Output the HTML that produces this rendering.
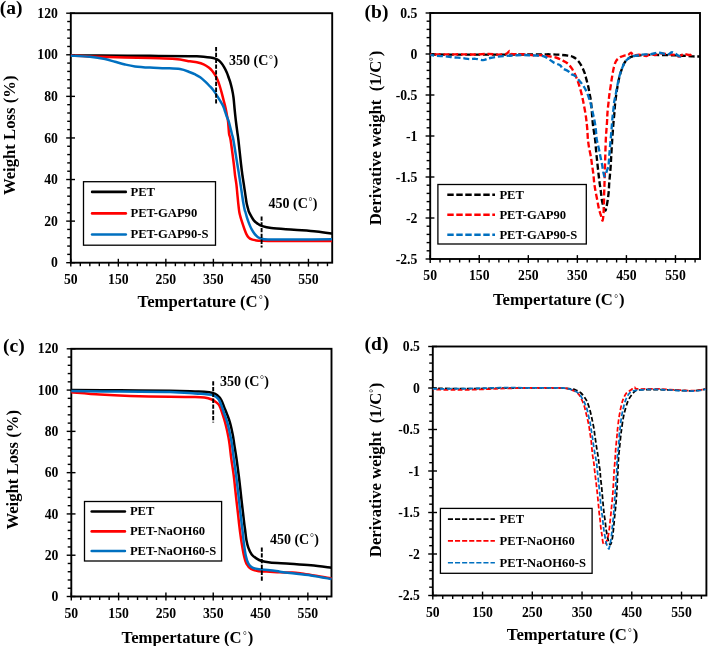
<!DOCTYPE html>
<html><head><meta charset="utf-8"><title>TGA / DTG curves</title>
<style>
html,body{margin:0;padding:0;background:#fff;width:708px;height:646px;overflow:hidden;}
svg{display:block;font-family:"Liberation Serif", serif;will-change:transform;}
text{white-space:pre;}
</style></head><body>
<svg width="708" height="646" viewBox="0 0 708 646" font-family='"Liberation Serif", serif' font-weight="bold" fill="#000">
<rect width="708" height="646" fill="#fff"/>
<line x1="70.80" y1="258.80" x2="70.80" y2="266.60" stroke="#000" stroke-width="1.40"/>
<line x1="80.31" y1="262.70" x2="80.31" y2="266.20" stroke="#000" stroke-width="1.40"/>
<line x1="89.81" y1="262.70" x2="89.81" y2="266.20" stroke="#000" stroke-width="1.40"/>
<line x1="99.32" y1="262.70" x2="99.32" y2="266.20" stroke="#000" stroke-width="1.40"/>
<line x1="108.82" y1="262.70" x2="108.82" y2="266.20" stroke="#000" stroke-width="1.40"/>
<line x1="118.33" y1="258.80" x2="118.33" y2="266.60" stroke="#000" stroke-width="1.40"/>
<line x1="127.83" y1="262.70" x2="127.83" y2="266.20" stroke="#000" stroke-width="1.40"/>
<line x1="137.34" y1="262.70" x2="137.34" y2="266.20" stroke="#000" stroke-width="1.40"/>
<line x1="146.84" y1="262.70" x2="146.84" y2="266.20" stroke="#000" stroke-width="1.40"/>
<line x1="156.35" y1="262.70" x2="156.35" y2="266.20" stroke="#000" stroke-width="1.40"/>
<line x1="165.85" y1="258.80" x2="165.85" y2="266.60" stroke="#000" stroke-width="1.40"/>
<line x1="175.36" y1="262.70" x2="175.36" y2="266.20" stroke="#000" stroke-width="1.40"/>
<line x1="184.87" y1="262.70" x2="184.87" y2="266.20" stroke="#000" stroke-width="1.40"/>
<line x1="194.37" y1="262.70" x2="194.37" y2="266.20" stroke="#000" stroke-width="1.40"/>
<line x1="203.88" y1="262.70" x2="203.88" y2="266.20" stroke="#000" stroke-width="1.40"/>
<line x1="213.38" y1="258.80" x2="213.38" y2="266.60" stroke="#000" stroke-width="1.40"/>
<line x1="222.89" y1="262.70" x2="222.89" y2="266.20" stroke="#000" stroke-width="1.40"/>
<line x1="232.39" y1="262.70" x2="232.39" y2="266.20" stroke="#000" stroke-width="1.40"/>
<line x1="241.90" y1="262.70" x2="241.90" y2="266.20" stroke="#000" stroke-width="1.40"/>
<line x1="251.40" y1="262.70" x2="251.40" y2="266.20" stroke="#000" stroke-width="1.40"/>
<line x1="260.91" y1="258.80" x2="260.91" y2="266.60" stroke="#000" stroke-width="1.40"/>
<line x1="270.41" y1="262.70" x2="270.41" y2="266.20" stroke="#000" stroke-width="1.40"/>
<line x1="279.92" y1="262.70" x2="279.92" y2="266.20" stroke="#000" stroke-width="1.40"/>
<line x1="289.43" y1="262.70" x2="289.43" y2="266.20" stroke="#000" stroke-width="1.40"/>
<line x1="298.93" y1="262.70" x2="298.93" y2="266.20" stroke="#000" stroke-width="1.40"/>
<line x1="308.44" y1="258.80" x2="308.44" y2="266.60" stroke="#000" stroke-width="1.40"/>
<line x1="317.94" y1="262.70" x2="317.94" y2="266.20" stroke="#000" stroke-width="1.40"/>
<line x1="327.45" y1="262.70" x2="327.45" y2="266.20" stroke="#000" stroke-width="1.40"/>
<line x1="66.20" y1="262.70" x2="75.00" y2="262.70" stroke="#000" stroke-width="1.40"/>
<line x1="67.20" y1="254.38" x2="70.80" y2="254.38" stroke="#000" stroke-width="1.40"/>
<line x1="67.20" y1="246.07" x2="70.80" y2="246.07" stroke="#000" stroke-width="1.40"/>
<line x1="67.20" y1="237.75" x2="70.80" y2="237.75" stroke="#000" stroke-width="1.40"/>
<line x1="67.20" y1="229.43" x2="70.80" y2="229.43" stroke="#000" stroke-width="1.40"/>
<line x1="66.20" y1="221.12" x2="75.00" y2="221.12" stroke="#000" stroke-width="1.40"/>
<line x1="67.20" y1="212.80" x2="70.80" y2="212.80" stroke="#000" stroke-width="1.40"/>
<line x1="67.20" y1="204.48" x2="70.80" y2="204.48" stroke="#000" stroke-width="1.40"/>
<line x1="67.20" y1="196.17" x2="70.80" y2="196.17" stroke="#000" stroke-width="1.40"/>
<line x1="67.20" y1="187.85" x2="70.80" y2="187.85" stroke="#000" stroke-width="1.40"/>
<line x1="66.20" y1="179.53" x2="75.00" y2="179.53" stroke="#000" stroke-width="1.40"/>
<line x1="67.20" y1="171.22" x2="70.80" y2="171.22" stroke="#000" stroke-width="1.40"/>
<line x1="67.20" y1="162.90" x2="70.80" y2="162.90" stroke="#000" stroke-width="1.40"/>
<line x1="67.20" y1="154.58" x2="70.80" y2="154.58" stroke="#000" stroke-width="1.40"/>
<line x1="67.20" y1="146.27" x2="70.80" y2="146.27" stroke="#000" stroke-width="1.40"/>
<line x1="66.20" y1="137.95" x2="75.00" y2="137.95" stroke="#000" stroke-width="1.40"/>
<line x1="67.20" y1="129.63" x2="70.80" y2="129.63" stroke="#000" stroke-width="1.40"/>
<line x1="67.20" y1="121.32" x2="70.80" y2="121.32" stroke="#000" stroke-width="1.40"/>
<line x1="67.20" y1="113.00" x2="70.80" y2="113.00" stroke="#000" stroke-width="1.40"/>
<line x1="67.20" y1="104.68" x2="70.80" y2="104.68" stroke="#000" stroke-width="1.40"/>
<line x1="66.20" y1="96.37" x2="75.00" y2="96.37" stroke="#000" stroke-width="1.40"/>
<line x1="67.20" y1="88.05" x2="70.80" y2="88.05" stroke="#000" stroke-width="1.40"/>
<line x1="67.20" y1="79.73" x2="70.80" y2="79.73" stroke="#000" stroke-width="1.40"/>
<line x1="67.20" y1="71.42" x2="70.80" y2="71.42" stroke="#000" stroke-width="1.40"/>
<line x1="67.20" y1="63.10" x2="70.80" y2="63.10" stroke="#000" stroke-width="1.40"/>
<line x1="66.20" y1="54.78" x2="75.00" y2="54.78" stroke="#000" stroke-width="1.40"/>
<line x1="67.20" y1="46.47" x2="70.80" y2="46.47" stroke="#000" stroke-width="1.40"/>
<line x1="67.20" y1="38.15" x2="70.80" y2="38.15" stroke="#000" stroke-width="1.40"/>
<line x1="67.20" y1="29.83" x2="70.80" y2="29.83" stroke="#000" stroke-width="1.40"/>
<line x1="67.20" y1="21.52" x2="70.80" y2="21.52" stroke="#000" stroke-width="1.40"/>
<line x1="66.20" y1="13.20" x2="75.00" y2="13.20" stroke="#000" stroke-width="1.40"/>
<rect x="70.80" y="13.20" width="261.40" height="249.50" fill="none" stroke="#000" stroke-width="1.9"/>
<text x="57.90" y="267.30" font-size="13.70" text-anchor="end">0</text>
<text x="57.90" y="225.72" font-size="13.70" text-anchor="end">20</text>
<text x="57.90" y="184.13" font-size="13.70" text-anchor="end">40</text>
<text x="57.90" y="142.55" font-size="13.70" text-anchor="end">60</text>
<text x="57.90" y="100.97" font-size="13.70" text-anchor="end">80</text>
<text x="57.90" y="59.38" font-size="13.70" text-anchor="end">100</text>
<text x="57.90" y="17.80" font-size="13.70" text-anchor="end">120</text>
<text x="70.80" y="284.10" font-size="13.70" text-anchor="middle">50</text>
<text x="118.33" y="284.10" font-size="13.70" text-anchor="middle">150</text>
<text x="165.85" y="284.10" font-size="13.70" text-anchor="middle">250</text>
<text x="213.38" y="284.10" font-size="13.70" text-anchor="middle">350</text>
<text x="260.91" y="284.10" font-size="13.70" text-anchor="middle">450</text>
<text x="308.44" y="284.10" font-size="13.70" text-anchor="middle">550</text>
<line x1="430.20" y1="255.10" x2="430.20" y2="262.90" stroke="#000" stroke-width="1.40"/>
<line x1="440.01" y1="259.00" x2="440.01" y2="262.50" stroke="#000" stroke-width="1.40"/>
<line x1="449.82" y1="259.00" x2="449.82" y2="262.50" stroke="#000" stroke-width="1.40"/>
<line x1="459.63" y1="259.00" x2="459.63" y2="262.50" stroke="#000" stroke-width="1.40"/>
<line x1="469.44" y1="259.00" x2="469.44" y2="262.50" stroke="#000" stroke-width="1.40"/>
<line x1="479.25" y1="255.10" x2="479.25" y2="262.90" stroke="#000" stroke-width="1.40"/>
<line x1="489.07" y1="259.00" x2="489.07" y2="262.50" stroke="#000" stroke-width="1.40"/>
<line x1="498.88" y1="259.00" x2="498.88" y2="262.50" stroke="#000" stroke-width="1.40"/>
<line x1="508.69" y1="259.00" x2="508.69" y2="262.50" stroke="#000" stroke-width="1.40"/>
<line x1="518.50" y1="259.00" x2="518.50" y2="262.50" stroke="#000" stroke-width="1.40"/>
<line x1="528.31" y1="255.10" x2="528.31" y2="262.90" stroke="#000" stroke-width="1.40"/>
<line x1="538.12" y1="259.00" x2="538.12" y2="262.50" stroke="#000" stroke-width="1.40"/>
<line x1="547.93" y1="259.00" x2="547.93" y2="262.50" stroke="#000" stroke-width="1.40"/>
<line x1="557.74" y1="259.00" x2="557.74" y2="262.50" stroke="#000" stroke-width="1.40"/>
<line x1="567.55" y1="259.00" x2="567.55" y2="262.50" stroke="#000" stroke-width="1.40"/>
<line x1="577.36" y1="255.10" x2="577.36" y2="262.90" stroke="#000" stroke-width="1.40"/>
<line x1="587.17" y1="259.00" x2="587.17" y2="262.50" stroke="#000" stroke-width="1.40"/>
<line x1="596.99" y1="259.00" x2="596.99" y2="262.50" stroke="#000" stroke-width="1.40"/>
<line x1="606.80" y1="259.00" x2="606.80" y2="262.50" stroke="#000" stroke-width="1.40"/>
<line x1="616.61" y1="259.00" x2="616.61" y2="262.50" stroke="#000" stroke-width="1.40"/>
<line x1="626.42" y1="255.10" x2="626.42" y2="262.90" stroke="#000" stroke-width="1.40"/>
<line x1="636.23" y1="259.00" x2="636.23" y2="262.50" stroke="#000" stroke-width="1.40"/>
<line x1="646.04" y1="259.00" x2="646.04" y2="262.50" stroke="#000" stroke-width="1.40"/>
<line x1="655.85" y1="259.00" x2="655.85" y2="262.50" stroke="#000" stroke-width="1.40"/>
<line x1="665.66" y1="259.00" x2="665.66" y2="262.50" stroke="#000" stroke-width="1.40"/>
<line x1="675.47" y1="255.10" x2="675.47" y2="262.90" stroke="#000" stroke-width="1.40"/>
<line x1="685.28" y1="259.00" x2="685.28" y2="262.50" stroke="#000" stroke-width="1.40"/>
<line x1="695.09" y1="259.00" x2="695.09" y2="262.50" stroke="#000" stroke-width="1.40"/>
<line x1="425.60" y1="259.00" x2="434.40" y2="259.00" stroke="#000" stroke-width="1.40"/>
<line x1="426.60" y1="250.80" x2="430.20" y2="250.80" stroke="#000" stroke-width="1.40"/>
<line x1="426.60" y1="242.60" x2="430.20" y2="242.60" stroke="#000" stroke-width="1.40"/>
<line x1="426.60" y1="234.40" x2="430.20" y2="234.40" stroke="#000" stroke-width="1.40"/>
<line x1="426.60" y1="226.20" x2="430.20" y2="226.20" stroke="#000" stroke-width="1.40"/>
<line x1="425.60" y1="218.00" x2="434.40" y2="218.00" stroke="#000" stroke-width="1.40"/>
<line x1="426.60" y1="209.80" x2="430.20" y2="209.80" stroke="#000" stroke-width="1.40"/>
<line x1="426.60" y1="201.60" x2="430.20" y2="201.60" stroke="#000" stroke-width="1.40"/>
<line x1="426.60" y1="193.40" x2="430.20" y2="193.40" stroke="#000" stroke-width="1.40"/>
<line x1="426.60" y1="185.20" x2="430.20" y2="185.20" stroke="#000" stroke-width="1.40"/>
<line x1="425.60" y1="177.00" x2="434.40" y2="177.00" stroke="#000" stroke-width="1.40"/>
<line x1="426.60" y1="168.80" x2="430.20" y2="168.80" stroke="#000" stroke-width="1.40"/>
<line x1="426.60" y1="160.60" x2="430.20" y2="160.60" stroke="#000" stroke-width="1.40"/>
<line x1="426.60" y1="152.40" x2="430.20" y2="152.40" stroke="#000" stroke-width="1.40"/>
<line x1="426.60" y1="144.20" x2="430.20" y2="144.20" stroke="#000" stroke-width="1.40"/>
<line x1="425.60" y1="136.00" x2="434.40" y2="136.00" stroke="#000" stroke-width="1.40"/>
<line x1="426.60" y1="127.80" x2="430.20" y2="127.80" stroke="#000" stroke-width="1.40"/>
<line x1="426.60" y1="119.60" x2="430.20" y2="119.60" stroke="#000" stroke-width="1.40"/>
<line x1="426.60" y1="111.40" x2="430.20" y2="111.40" stroke="#000" stroke-width="1.40"/>
<line x1="426.60" y1="103.20" x2="430.20" y2="103.20" stroke="#000" stroke-width="1.40"/>
<line x1="425.60" y1="95.00" x2="434.40" y2="95.00" stroke="#000" stroke-width="1.40"/>
<line x1="426.60" y1="86.80" x2="430.20" y2="86.80" stroke="#000" stroke-width="1.40"/>
<line x1="426.60" y1="78.60" x2="430.20" y2="78.60" stroke="#000" stroke-width="1.40"/>
<line x1="426.60" y1="70.40" x2="430.20" y2="70.40" stroke="#000" stroke-width="1.40"/>
<line x1="426.60" y1="62.20" x2="430.20" y2="62.20" stroke="#000" stroke-width="1.40"/>
<line x1="425.60" y1="54.00" x2="434.40" y2="54.00" stroke="#000" stroke-width="1.40"/>
<line x1="426.60" y1="45.80" x2="430.20" y2="45.80" stroke="#000" stroke-width="1.40"/>
<line x1="426.60" y1="37.60" x2="430.20" y2="37.60" stroke="#000" stroke-width="1.40"/>
<line x1="426.60" y1="29.40" x2="430.20" y2="29.40" stroke="#000" stroke-width="1.40"/>
<line x1="426.60" y1="21.20" x2="430.20" y2="21.20" stroke="#000" stroke-width="1.40"/>
<line x1="425.60" y1="13.00" x2="434.40" y2="13.00" stroke="#000" stroke-width="1.40"/>
<rect x="430.20" y="13.00" width="269.80" height="246.00" fill="none" stroke="#000" stroke-width="1.9"/>
<text x="417.30" y="263.60" font-size="13.70" text-anchor="end">-2.5</text>
<text x="417.30" y="222.60" font-size="13.70" text-anchor="end">-2</text>
<text x="417.30" y="181.60" font-size="13.70" text-anchor="end">-1.5</text>
<text x="417.30" y="140.60" font-size="13.70" text-anchor="end">-1</text>
<text x="417.30" y="99.60" font-size="13.70" text-anchor="end">-0.5</text>
<text x="417.30" y="58.60" font-size="13.70" text-anchor="end">0</text>
<text x="417.30" y="17.60" font-size="13.70" text-anchor="end">0.5</text>
<text x="430.20" y="280.40" font-size="13.70" text-anchor="middle">50</text>
<text x="479.25" y="280.40" font-size="13.70" text-anchor="middle">150</text>
<text x="528.31" y="280.40" font-size="13.70" text-anchor="middle">250</text>
<text x="577.36" y="280.40" font-size="13.70" text-anchor="middle">350</text>
<text x="626.42" y="280.40" font-size="13.70" text-anchor="middle">450</text>
<text x="675.47" y="280.40" font-size="13.70" text-anchor="middle">550</text>
<line x1="71.30" y1="592.60" x2="71.30" y2="600.40" stroke="#000" stroke-width="1.40"/>
<line x1="80.76" y1="596.50" x2="80.76" y2="600.00" stroke="#000" stroke-width="1.40"/>
<line x1="90.22" y1="596.50" x2="90.22" y2="600.00" stroke="#000" stroke-width="1.40"/>
<line x1="99.69" y1="596.50" x2="99.69" y2="600.00" stroke="#000" stroke-width="1.40"/>
<line x1="109.15" y1="596.50" x2="109.15" y2="600.00" stroke="#000" stroke-width="1.40"/>
<line x1="118.61" y1="592.60" x2="118.61" y2="600.40" stroke="#000" stroke-width="1.40"/>
<line x1="128.07" y1="596.50" x2="128.07" y2="600.00" stroke="#000" stroke-width="1.40"/>
<line x1="137.53" y1="596.50" x2="137.53" y2="600.00" stroke="#000" stroke-width="1.40"/>
<line x1="146.99" y1="596.50" x2="146.99" y2="600.00" stroke="#000" stroke-width="1.40"/>
<line x1="156.46" y1="596.50" x2="156.46" y2="600.00" stroke="#000" stroke-width="1.40"/>
<line x1="165.92" y1="592.60" x2="165.92" y2="600.40" stroke="#000" stroke-width="1.40"/>
<line x1="175.38" y1="596.50" x2="175.38" y2="600.00" stroke="#000" stroke-width="1.40"/>
<line x1="184.84" y1="596.50" x2="184.84" y2="600.00" stroke="#000" stroke-width="1.40"/>
<line x1="194.30" y1="596.50" x2="194.30" y2="600.00" stroke="#000" stroke-width="1.40"/>
<line x1="203.77" y1="596.50" x2="203.77" y2="600.00" stroke="#000" stroke-width="1.40"/>
<line x1="213.23" y1="592.60" x2="213.23" y2="600.40" stroke="#000" stroke-width="1.40"/>
<line x1="222.69" y1="596.50" x2="222.69" y2="600.00" stroke="#000" stroke-width="1.40"/>
<line x1="232.15" y1="596.50" x2="232.15" y2="600.00" stroke="#000" stroke-width="1.40"/>
<line x1="241.61" y1="596.50" x2="241.61" y2="600.00" stroke="#000" stroke-width="1.40"/>
<line x1="251.07" y1="596.50" x2="251.07" y2="600.00" stroke="#000" stroke-width="1.40"/>
<line x1="260.54" y1="592.60" x2="260.54" y2="600.40" stroke="#000" stroke-width="1.40"/>
<line x1="270.00" y1="596.50" x2="270.00" y2="600.00" stroke="#000" stroke-width="1.40"/>
<line x1="279.46" y1="596.50" x2="279.46" y2="600.00" stroke="#000" stroke-width="1.40"/>
<line x1="288.92" y1="596.50" x2="288.92" y2="600.00" stroke="#000" stroke-width="1.40"/>
<line x1="298.38" y1="596.50" x2="298.38" y2="600.00" stroke="#000" stroke-width="1.40"/>
<line x1="307.85" y1="592.60" x2="307.85" y2="600.40" stroke="#000" stroke-width="1.40"/>
<line x1="317.31" y1="596.50" x2="317.31" y2="600.00" stroke="#000" stroke-width="1.40"/>
<line x1="326.77" y1="596.50" x2="326.77" y2="600.00" stroke="#000" stroke-width="1.40"/>
<line x1="66.70" y1="596.50" x2="75.50" y2="596.50" stroke="#000" stroke-width="1.40"/>
<line x1="67.70" y1="588.24" x2="71.30" y2="588.24" stroke="#000" stroke-width="1.40"/>
<line x1="67.70" y1="579.99" x2="71.30" y2="579.99" stroke="#000" stroke-width="1.40"/>
<line x1="67.70" y1="571.73" x2="71.30" y2="571.73" stroke="#000" stroke-width="1.40"/>
<line x1="67.70" y1="563.47" x2="71.30" y2="563.47" stroke="#000" stroke-width="1.40"/>
<line x1="66.70" y1="555.22" x2="75.50" y2="555.22" stroke="#000" stroke-width="1.40"/>
<line x1="67.70" y1="546.96" x2="71.30" y2="546.96" stroke="#000" stroke-width="1.40"/>
<line x1="67.70" y1="538.70" x2="71.30" y2="538.70" stroke="#000" stroke-width="1.40"/>
<line x1="67.70" y1="530.45" x2="71.30" y2="530.45" stroke="#000" stroke-width="1.40"/>
<line x1="67.70" y1="522.19" x2="71.30" y2="522.19" stroke="#000" stroke-width="1.40"/>
<line x1="66.70" y1="513.93" x2="75.50" y2="513.93" stroke="#000" stroke-width="1.40"/>
<line x1="67.70" y1="505.68" x2="71.30" y2="505.68" stroke="#000" stroke-width="1.40"/>
<line x1="67.70" y1="497.42" x2="71.30" y2="497.42" stroke="#000" stroke-width="1.40"/>
<line x1="67.70" y1="489.16" x2="71.30" y2="489.16" stroke="#000" stroke-width="1.40"/>
<line x1="67.70" y1="480.91" x2="71.30" y2="480.91" stroke="#000" stroke-width="1.40"/>
<line x1="66.70" y1="472.65" x2="75.50" y2="472.65" stroke="#000" stroke-width="1.40"/>
<line x1="67.70" y1="464.39" x2="71.30" y2="464.39" stroke="#000" stroke-width="1.40"/>
<line x1="67.70" y1="456.14" x2="71.30" y2="456.14" stroke="#000" stroke-width="1.40"/>
<line x1="67.70" y1="447.88" x2="71.30" y2="447.88" stroke="#000" stroke-width="1.40"/>
<line x1="67.70" y1="439.62" x2="71.30" y2="439.62" stroke="#000" stroke-width="1.40"/>
<line x1="66.70" y1="431.37" x2="75.50" y2="431.37" stroke="#000" stroke-width="1.40"/>
<line x1="67.70" y1="423.11" x2="71.30" y2="423.11" stroke="#000" stroke-width="1.40"/>
<line x1="67.70" y1="414.85" x2="71.30" y2="414.85" stroke="#000" stroke-width="1.40"/>
<line x1="67.70" y1="406.60" x2="71.30" y2="406.60" stroke="#000" stroke-width="1.40"/>
<line x1="67.70" y1="398.34" x2="71.30" y2="398.34" stroke="#000" stroke-width="1.40"/>
<line x1="66.70" y1="390.08" x2="75.50" y2="390.08" stroke="#000" stroke-width="1.40"/>
<line x1="67.70" y1="381.83" x2="71.30" y2="381.83" stroke="#000" stroke-width="1.40"/>
<line x1="67.70" y1="373.57" x2="71.30" y2="373.57" stroke="#000" stroke-width="1.40"/>
<line x1="67.70" y1="365.31" x2="71.30" y2="365.31" stroke="#000" stroke-width="1.40"/>
<line x1="67.70" y1="357.06" x2="71.30" y2="357.06" stroke="#000" stroke-width="1.40"/>
<line x1="66.70" y1="348.80" x2="75.50" y2="348.80" stroke="#000" stroke-width="1.40"/>
<rect x="71.30" y="348.80" width="260.20" height="247.70" fill="none" stroke="#000" stroke-width="1.9"/>
<text x="58.40" y="601.10" font-size="13.70" text-anchor="end">0</text>
<text x="58.40" y="559.82" font-size="13.70" text-anchor="end">20</text>
<text x="58.40" y="518.53" font-size="13.70" text-anchor="end">40</text>
<text x="58.40" y="477.25" font-size="13.70" text-anchor="end">60</text>
<text x="58.40" y="435.97" font-size="13.70" text-anchor="end">80</text>
<text x="58.40" y="394.68" font-size="13.70" text-anchor="end">100</text>
<text x="58.40" y="353.40" font-size="13.70" text-anchor="end">120</text>
<text x="71.30" y="617.90" font-size="13.70" text-anchor="middle">50</text>
<text x="118.61" y="617.90" font-size="13.70" text-anchor="middle">150</text>
<text x="165.92" y="617.90" font-size="13.70" text-anchor="middle">250</text>
<text x="213.23" y="617.90" font-size="13.70" text-anchor="middle">350</text>
<text x="260.54" y="617.90" font-size="13.70" text-anchor="middle">450</text>
<text x="307.85" y="617.90" font-size="13.70" text-anchor="middle">550</text>
<line x1="432.80" y1="591.60" x2="432.80" y2="599.40" stroke="#000" stroke-width="1.40"/>
<line x1="442.75" y1="595.50" x2="442.75" y2="599.00" stroke="#000" stroke-width="1.40"/>
<line x1="452.70" y1="595.50" x2="452.70" y2="599.00" stroke="#000" stroke-width="1.40"/>
<line x1="462.65" y1="595.50" x2="462.65" y2="599.00" stroke="#000" stroke-width="1.40"/>
<line x1="472.60" y1="595.50" x2="472.60" y2="599.00" stroke="#000" stroke-width="1.40"/>
<line x1="482.55" y1="591.60" x2="482.55" y2="599.40" stroke="#000" stroke-width="1.40"/>
<line x1="492.49" y1="595.50" x2="492.49" y2="599.00" stroke="#000" stroke-width="1.40"/>
<line x1="502.44" y1="595.50" x2="502.44" y2="599.00" stroke="#000" stroke-width="1.40"/>
<line x1="512.39" y1="595.50" x2="512.39" y2="599.00" stroke="#000" stroke-width="1.40"/>
<line x1="522.34" y1="595.50" x2="522.34" y2="599.00" stroke="#000" stroke-width="1.40"/>
<line x1="532.29" y1="591.60" x2="532.29" y2="599.40" stroke="#000" stroke-width="1.40"/>
<line x1="542.24" y1="595.50" x2="542.24" y2="599.00" stroke="#000" stroke-width="1.40"/>
<line x1="552.19" y1="595.50" x2="552.19" y2="599.00" stroke="#000" stroke-width="1.40"/>
<line x1="562.14" y1="595.50" x2="562.14" y2="599.00" stroke="#000" stroke-width="1.40"/>
<line x1="572.09" y1="595.50" x2="572.09" y2="599.00" stroke="#000" stroke-width="1.40"/>
<line x1="582.04" y1="591.60" x2="582.04" y2="599.40" stroke="#000" stroke-width="1.40"/>
<line x1="591.99" y1="595.50" x2="591.99" y2="599.00" stroke="#000" stroke-width="1.40"/>
<line x1="601.93" y1="595.50" x2="601.93" y2="599.00" stroke="#000" stroke-width="1.40"/>
<line x1="611.88" y1="595.50" x2="611.88" y2="599.00" stroke="#000" stroke-width="1.40"/>
<line x1="621.83" y1="595.50" x2="621.83" y2="599.00" stroke="#000" stroke-width="1.40"/>
<line x1="631.78" y1="591.60" x2="631.78" y2="599.40" stroke="#000" stroke-width="1.40"/>
<line x1="641.73" y1="595.50" x2="641.73" y2="599.00" stroke="#000" stroke-width="1.40"/>
<line x1="651.68" y1="595.50" x2="651.68" y2="599.00" stroke="#000" stroke-width="1.40"/>
<line x1="661.63" y1="595.50" x2="661.63" y2="599.00" stroke="#000" stroke-width="1.40"/>
<line x1="671.58" y1="595.50" x2="671.58" y2="599.00" stroke="#000" stroke-width="1.40"/>
<line x1="681.53" y1="591.60" x2="681.53" y2="599.40" stroke="#000" stroke-width="1.40"/>
<line x1="691.48" y1="595.50" x2="691.48" y2="599.00" stroke="#000" stroke-width="1.40"/>
<line x1="701.43" y1="595.50" x2="701.43" y2="599.00" stroke="#000" stroke-width="1.40"/>
<line x1="428.20" y1="595.50" x2="437.00" y2="595.50" stroke="#000" stroke-width="1.40"/>
<line x1="429.20" y1="587.20" x2="432.80" y2="587.20" stroke="#000" stroke-width="1.40"/>
<line x1="429.20" y1="578.90" x2="432.80" y2="578.90" stroke="#000" stroke-width="1.40"/>
<line x1="429.20" y1="570.60" x2="432.80" y2="570.60" stroke="#000" stroke-width="1.40"/>
<line x1="429.20" y1="562.30" x2="432.80" y2="562.30" stroke="#000" stroke-width="1.40"/>
<line x1="428.20" y1="554.00" x2="437.00" y2="554.00" stroke="#000" stroke-width="1.40"/>
<line x1="429.20" y1="545.70" x2="432.80" y2="545.70" stroke="#000" stroke-width="1.40"/>
<line x1="429.20" y1="537.40" x2="432.80" y2="537.40" stroke="#000" stroke-width="1.40"/>
<line x1="429.20" y1="529.10" x2="432.80" y2="529.10" stroke="#000" stroke-width="1.40"/>
<line x1="429.20" y1="520.80" x2="432.80" y2="520.80" stroke="#000" stroke-width="1.40"/>
<line x1="428.20" y1="512.50" x2="437.00" y2="512.50" stroke="#000" stroke-width="1.40"/>
<line x1="429.20" y1="504.20" x2="432.80" y2="504.20" stroke="#000" stroke-width="1.40"/>
<line x1="429.20" y1="495.90" x2="432.80" y2="495.90" stroke="#000" stroke-width="1.40"/>
<line x1="429.20" y1="487.60" x2="432.80" y2="487.60" stroke="#000" stroke-width="1.40"/>
<line x1="429.20" y1="479.30" x2="432.80" y2="479.30" stroke="#000" stroke-width="1.40"/>
<line x1="428.20" y1="471.00" x2="437.00" y2="471.00" stroke="#000" stroke-width="1.40"/>
<line x1="429.20" y1="462.70" x2="432.80" y2="462.70" stroke="#000" stroke-width="1.40"/>
<line x1="429.20" y1="454.40" x2="432.80" y2="454.40" stroke="#000" stroke-width="1.40"/>
<line x1="429.20" y1="446.10" x2="432.80" y2="446.10" stroke="#000" stroke-width="1.40"/>
<line x1="429.20" y1="437.80" x2="432.80" y2="437.80" stroke="#000" stroke-width="1.40"/>
<line x1="428.20" y1="429.50" x2="437.00" y2="429.50" stroke="#000" stroke-width="1.40"/>
<line x1="429.20" y1="421.20" x2="432.80" y2="421.20" stroke="#000" stroke-width="1.40"/>
<line x1="429.20" y1="412.90" x2="432.80" y2="412.90" stroke="#000" stroke-width="1.40"/>
<line x1="429.20" y1="404.60" x2="432.80" y2="404.60" stroke="#000" stroke-width="1.40"/>
<line x1="429.20" y1="396.30" x2="432.80" y2="396.30" stroke="#000" stroke-width="1.40"/>
<line x1="428.20" y1="388.00" x2="437.00" y2="388.00" stroke="#000" stroke-width="1.40"/>
<line x1="429.20" y1="379.70" x2="432.80" y2="379.70" stroke="#000" stroke-width="1.40"/>
<line x1="429.20" y1="371.40" x2="432.80" y2="371.40" stroke="#000" stroke-width="1.40"/>
<line x1="429.20" y1="363.10" x2="432.80" y2="363.10" stroke="#000" stroke-width="1.40"/>
<line x1="429.20" y1="354.80" x2="432.80" y2="354.80" stroke="#000" stroke-width="1.40"/>
<line x1="428.20" y1="346.50" x2="437.00" y2="346.50" stroke="#000" stroke-width="1.40"/>
<rect x="432.80" y="346.50" width="273.60" height="249.00" fill="none" stroke="#000" stroke-width="1.9"/>
<text x="419.90" y="600.10" font-size="13.70" text-anchor="end">-2.5</text>
<text x="419.90" y="558.60" font-size="13.70" text-anchor="end">-2</text>
<text x="419.90" y="517.10" font-size="13.70" text-anchor="end">-1.5</text>
<text x="419.90" y="475.60" font-size="13.70" text-anchor="end">-1</text>
<text x="419.90" y="434.10" font-size="13.70" text-anchor="end">-0.5</text>
<text x="419.90" y="392.60" font-size="13.70" text-anchor="end">0</text>
<text x="419.90" y="351.10" font-size="13.70" text-anchor="end">0.5</text>
<text x="432.80" y="616.90" font-size="13.70" text-anchor="middle">50</text>
<text x="482.55" y="616.90" font-size="13.70" text-anchor="middle">150</text>
<text x="532.29" y="616.90" font-size="13.70" text-anchor="middle">250</text>
<text x="582.04" y="616.90" font-size="13.70" text-anchor="middle">350</text>
<text x="631.78" y="616.90" font-size="13.70" text-anchor="middle">450</text>
<text x="681.53" y="616.90" font-size="13.70" text-anchor="middle">550</text>
<path d="M70.80,55.40 C75.67,55.42 86.80,55.43 100.00,55.50 C113.20,55.57 135.00,55.68 150.00,55.80 C165.00,55.92 182.20,56.12 190.00,56.20 C197.80,56.28 194.53,56.22 196.80,56.30 C199.07,56.38 201.33,56.50 203.60,56.70 C205.87,56.90 208.47,57.18 210.40,57.50 C212.33,57.82 213.83,58.13 215.20,58.60 C216.57,59.07 217.58,59.57 218.60,60.30 C219.62,61.03 220.38,61.87 221.30,63.00 C222.22,64.13 223.18,65.52 224.10,67.10 C225.02,68.68 226.02,70.68 226.80,72.50 C227.58,74.32 228.25,76.47 228.80,78.00 C229.35,79.53 229.57,79.85 230.10,81.70 C230.63,83.55 231.43,86.47 232.00,89.10 C232.57,91.73 233.05,94.02 233.50,97.50 C233.95,100.98 234.28,105.92 234.70,110.00 C235.12,114.08 235.52,118.00 236.00,122.00 C236.48,126.00 237.20,131.00 237.60,134.00 C238.00,137.00 237.83,135.00 238.40,140.00 C238.97,145.00 240.33,158.17 241.00,164.00 C241.67,169.83 241.93,171.62 242.40,175.00 C242.87,178.38 243.33,181.20 243.80,184.30 C244.27,187.40 244.73,190.50 245.20,193.60 C245.67,196.70 246.13,200.42 246.60,202.90 C247.07,205.38 247.60,206.98 248.00,208.50 C248.40,210.02 248.47,210.72 249.00,212.00 C249.53,213.28 250.40,214.80 251.20,216.20 C252.00,217.60 252.75,219.17 253.80,220.40 C254.85,221.63 256.18,222.68 257.50,223.60 C258.82,224.52 259.40,225.17 261.70,225.90 C264.00,226.63 265.93,227.37 271.30,228.00 C276.67,228.63 286.37,229.13 293.90,229.70 C301.43,230.27 310.10,230.75 316.50,231.40 C322.90,232.05 329.67,233.23 332.30,233.60" fill="none" stroke="#000000" stroke-width="2.50" stroke-linejoin="round" stroke-linecap="butt"/>
<path d="M70.80,55.50 C75.67,55.72 86.80,56.37 100.00,56.80 C113.20,57.23 137.50,57.73 150.00,58.10 C162.50,58.47 168.33,58.47 175.00,59.00 C181.67,59.53 186.37,60.75 190.00,61.30 C193.63,61.85 194.53,61.80 196.80,62.30 C199.07,62.80 201.55,63.38 203.60,64.30 C205.65,65.22 207.62,66.65 209.10,67.80 C210.58,68.95 211.48,69.97 212.50,71.20 C213.52,72.43 214.35,73.75 215.20,75.20 C216.05,76.65 216.87,78.18 217.60,79.90 C218.33,81.62 218.92,83.33 219.60,85.50 C220.28,87.67 221.03,90.43 221.70,92.90 C222.37,95.37 222.97,97.83 223.60,100.30 C224.23,102.77 224.95,105.23 225.50,107.70 C226.05,110.17 226.47,112.72 226.90,115.10 C227.33,117.48 227.73,118.85 228.10,122.00 C228.47,125.15 228.68,131.00 229.10,134.00 C229.52,137.00 229.82,135.00 230.60,140.00 C231.38,145.00 233.07,158.17 233.80,164.00 C234.53,169.83 234.57,171.62 235.00,175.00 C235.43,178.38 236.02,181.20 236.40,184.30 C236.78,187.40 237.00,190.50 237.30,193.60 C237.60,196.70 237.87,199.83 238.20,202.90 C238.53,205.97 238.90,209.60 239.30,212.00 C239.70,214.40 240.12,215.55 240.60,217.30 C241.08,219.05 241.58,220.58 242.20,222.50 C242.82,224.42 243.60,226.87 244.30,228.80 C245.00,230.73 245.70,232.68 246.40,234.10 C247.10,235.52 247.62,236.42 248.50,237.30 C249.38,238.18 250.38,238.88 251.70,239.40 C253.02,239.92 254.73,240.17 256.40,240.40 C258.07,240.63 259.77,240.70 261.70,240.80 C263.63,240.90 261.62,240.95 268.00,241.00 C274.38,241.05 289.33,241.12 300.00,241.10 C310.67,241.08 326.67,240.93 332.00,240.90" fill="none" stroke="#ff0000" stroke-width="2.50" stroke-linejoin="round" stroke-linecap="butt"/>
<path d="M70.80,55.70 C74.00,55.88 84.30,56.25 90.00,56.80 C95.70,57.35 100.83,58.17 105.00,59.00 C109.17,59.83 111.67,60.88 115.00,61.80 C118.33,62.72 121.67,63.73 125.00,64.50 C128.33,65.27 130.83,65.88 135.00,66.40 C139.17,66.92 145.00,67.30 150.00,67.60 C155.00,67.90 160.00,67.95 165.00,68.20 C170.00,68.45 175.83,68.43 180.00,69.10 C184.17,69.77 187.42,71.28 190.00,72.20 C192.58,73.12 193.80,73.75 195.50,74.60 C197.20,75.45 198.62,76.17 200.20,77.30 C201.78,78.43 203.52,80.03 205.00,81.40 C206.48,82.77 207.77,84.10 209.10,85.50 C210.43,86.90 211.58,87.95 213.00,89.80 C214.42,91.65 216.37,94.70 217.60,96.60 C218.83,98.50 219.48,99.65 220.40,101.20 C221.32,102.75 222.40,104.43 223.10,105.90 C223.80,107.37 224.02,108.32 224.60,110.00 C225.18,111.68 225.88,114.00 226.60,116.00 C227.32,118.00 228.02,119.00 228.90,122.00 C229.78,125.00 231.15,131.00 231.90,134.00 C232.65,137.00 232.50,135.00 233.40,140.00 C234.30,145.00 236.35,158.17 237.30,164.00 C238.25,169.83 238.57,171.62 239.10,175.00 C239.63,178.38 240.03,181.20 240.50,184.30 C240.97,187.40 241.43,190.50 241.90,193.60 C242.37,196.70 242.83,200.17 243.30,202.90 C243.77,205.63 244.35,208.48 244.70,210.00 C245.05,211.52 245.03,210.78 245.40,212.00 C245.77,213.22 246.28,215.37 246.90,217.30 C247.52,219.23 248.30,221.58 249.10,223.60 C249.90,225.62 250.75,227.65 251.70,229.40 C252.65,231.15 253.75,232.78 254.80,234.10 C255.85,235.42 256.85,236.52 258.00,237.30 C259.15,238.08 260.03,238.45 261.70,238.80 C263.37,239.15 261.62,239.28 268.00,239.40 C274.38,239.52 289.33,239.52 300.00,239.50 C310.67,239.48 326.67,239.33 332.00,239.30" fill="none" stroke="#0070c0" stroke-width="2.50" stroke-linejoin="round" stroke-linecap="butt"/>
<path d="M71.30,389.90 C79.42,389.97 103.55,390.17 120.00,390.30 C136.45,390.43 157.50,390.52 170.00,390.70 C182.50,390.88 189.28,391.22 195.00,391.40 C200.72,391.58 201.37,391.53 204.30,391.80 C207.23,392.07 210.43,392.43 212.60,393.00 C214.77,393.57 215.85,394.03 217.30,395.20 C218.75,396.37 220.13,397.97 221.30,400.00 C222.47,402.03 223.30,404.92 224.30,407.40 C225.30,409.88 226.37,412.42 227.30,414.90 C228.23,417.38 229.17,419.83 229.90,422.30 C230.63,424.77 231.15,427.23 231.70,429.70 C232.25,432.17 232.77,434.62 233.20,437.10 C233.63,439.58 233.77,441.12 234.30,444.60 C234.83,448.08 235.65,452.77 236.40,458.00 C237.15,463.23 238.17,471.00 238.80,476.00 C239.43,481.00 239.75,484.00 240.20,488.00 C240.65,492.00 241.05,496.00 241.50,500.00 C241.95,504.00 242.43,508.00 242.90,512.00 C243.37,516.00 243.92,520.92 244.30,524.00 C244.68,527.08 244.85,527.83 245.20,530.50 C245.55,533.17 245.87,537.10 246.40,540.00 C246.93,542.90 247.52,545.48 248.40,547.90 C249.28,550.32 250.38,552.75 251.70,554.50 C253.02,556.25 254.65,557.32 256.30,558.40 C257.95,559.48 259.32,560.33 261.60,561.00 C263.88,561.67 265.27,561.95 270.00,562.40 C274.73,562.85 283.17,563.22 290.00,563.70 C296.83,564.18 304.08,564.63 311.00,565.30 C317.92,565.97 328.08,567.30 331.50,567.70" fill="none" stroke="#000000" stroke-width="2.50" stroke-linejoin="round" stroke-linecap="butt"/>
<path d="M71.30,392.20 C76.08,392.58 90.22,393.88 100.00,394.50 C109.78,395.12 118.33,395.52 130.00,395.90 C141.67,396.28 159.17,396.62 170.00,396.80 C180.83,396.98 189.28,396.87 195.00,397.00 C200.72,397.13 201.52,397.18 204.30,397.60 C207.08,398.02 209.78,398.77 211.70,399.50 C213.62,400.23 214.63,401.17 215.80,402.00 C216.97,402.83 217.97,403.60 218.70,404.50 C219.43,405.40 219.52,405.67 220.20,407.40 C220.88,409.13 221.98,412.42 222.80,414.90 C223.62,417.38 224.42,419.83 225.10,422.30 C225.78,424.77 226.35,427.23 226.90,429.70 C227.45,432.17 227.95,434.62 228.40,437.10 C228.85,439.58 229.13,441.12 229.60,444.60 C230.07,448.08 230.50,452.77 231.20,458.00 C231.90,463.23 233.15,471.00 233.80,476.00 C234.45,481.00 234.67,484.00 235.10,488.00 C235.53,492.00 235.95,496.00 236.40,500.00 C236.85,504.00 237.35,508.00 237.80,512.00 C238.25,516.00 238.75,520.92 239.10,524.00 C239.45,527.08 239.48,527.40 239.90,530.50 C240.32,533.60 240.92,538.38 241.60,542.60 C242.28,546.82 243.20,552.28 244.00,555.80 C244.80,559.32 245.22,561.50 246.40,563.70 C247.58,565.90 249.23,567.80 251.10,569.00 C252.97,570.20 254.45,570.45 257.60,570.90 C260.75,571.35 266.27,571.47 270.00,571.70 C273.73,571.93 276.67,572.17 280.00,572.30 C283.33,572.43 286.67,572.35 290.00,572.50 C293.33,572.65 293.08,572.23 300.00,573.20 C306.92,574.17 326.25,577.45 331.50,578.30" fill="none" stroke="#ff0000" stroke-width="2.50" stroke-linejoin="round" stroke-linecap="butt"/>
<path d="M71.30,391.00 C79.42,391.10 103.55,391.43 120.00,391.60 C136.45,391.77 157.50,391.68 170.00,392.00 C182.50,392.32 189.28,393.18 195.00,393.50 C200.72,393.82 201.52,393.67 204.30,393.90 C207.08,394.13 209.78,394.43 211.70,394.90 C213.62,395.37 214.57,395.85 215.80,396.70 C217.03,397.55 218.05,398.22 219.10,400.00 C220.15,401.78 221.17,404.92 222.10,407.40 C223.03,409.88 223.83,412.42 224.70,414.90 C225.57,417.38 226.57,419.83 227.30,422.30 C228.03,424.77 228.55,427.23 229.10,429.70 C229.65,432.17 230.12,434.62 230.60,437.10 C231.08,439.58 231.48,441.12 232.00,444.60 C232.52,448.08 233.00,452.77 233.70,458.00 C234.40,463.23 235.55,471.00 236.20,476.00 C236.85,481.00 237.13,484.00 237.60,488.00 C238.07,492.00 238.55,496.00 239.00,500.00 C239.45,504.00 239.85,508.00 240.30,512.00 C240.75,516.00 241.33,520.92 241.70,524.00 C242.07,527.08 242.15,527.40 242.50,530.50 C242.85,533.60 243.25,538.38 243.80,542.60 C244.35,546.82 245.03,552.28 245.80,555.80 C246.57,559.32 247.30,561.73 248.40,563.70 C249.50,565.67 250.65,566.67 252.40,567.60 C254.15,568.53 255.97,568.87 258.90,569.30 C261.83,569.73 266.48,569.80 270.00,570.20 C273.52,570.60 276.67,571.23 280.00,571.70 C283.33,572.17 284.83,572.38 290.00,573.00 C295.17,573.62 304.08,574.38 311.00,575.40 C317.92,576.42 328.08,578.48 331.50,579.10" fill="none" stroke="#0070c0" stroke-width="2.50" stroke-linejoin="round" stroke-linecap="butt"/>
<path d="M430.20,54.50 C435.17,54.52 448.37,54.58 460.00,54.60 C471.63,54.62 486.67,54.63 500.00,54.60 C513.33,54.57 531.78,54.45 540.00,54.40 C548.22,54.35 546.20,54.25 549.30,54.30 C552.40,54.35 555.50,54.47 558.60,54.70 C561.70,54.93 565.43,55.30 567.90,55.70 C570.37,56.10 571.70,56.25 573.40,57.10 C575.10,57.95 576.70,59.25 578.10,60.80 C579.50,62.35 580.72,64.38 581.80,66.40 C582.88,68.42 583.83,70.73 584.60,72.90 C585.37,75.07 585.78,77.08 586.40,79.40 C587.02,81.72 587.75,84.33 588.30,86.80 C588.85,89.27 589.23,91.57 589.70,94.20 C590.17,96.83 590.62,98.08 591.10,102.60 C591.58,107.12 592.17,116.70 592.60,121.30 C593.03,125.90 593.28,127.20 593.70,130.20 C594.12,133.20 594.73,136.25 595.10,139.30 C595.47,142.35 595.63,145.57 595.90,148.50 C596.17,151.43 596.42,154.10 596.70,156.90 C596.98,159.70 597.28,162.37 597.60,165.30 C597.92,168.23 598.27,171.58 598.60,174.50 C598.93,177.42 599.22,179.90 599.60,182.80 C599.98,185.70 600.50,188.90 600.90,191.90 C601.30,194.90 601.57,198.37 602.00,200.80 C602.43,203.23 602.97,204.87 603.50,206.50 C604.03,208.13 604.75,210.32 605.20,210.60 C605.65,210.88 605.80,209.83 606.20,208.20 C606.60,206.57 607.18,203.52 607.60,200.80 C608.02,198.08 608.43,194.82 608.70,191.90 C608.97,188.98 608.98,186.22 609.20,183.30 C609.42,180.38 609.75,177.30 610.00,174.40 C610.25,171.50 610.50,168.85 610.70,165.90 C610.90,162.95 610.95,161.02 611.20,156.70 C611.45,152.38 611.82,145.73 612.20,140.00 C612.58,134.27 613.13,126.80 613.50,122.30 C613.87,117.80 614.13,116.10 614.40,113.00 C614.67,109.90 614.80,106.68 615.10,103.70 C615.40,100.72 615.78,98.07 616.20,95.10 C616.62,92.13 617.05,88.98 617.60,85.90 C618.15,82.82 618.80,79.40 619.50,76.60 C620.20,73.80 620.95,71.43 621.80,69.10 C622.65,66.77 623.58,64.30 624.60,62.60 C625.62,60.90 626.73,59.90 627.90,58.90 C629.07,57.90 630.07,57.13 631.60,56.60 C633.13,56.07 634.63,55.98 637.10,55.70 C639.57,55.42 642.58,55.02 646.40,54.90 C650.22,54.78 654.40,54.90 660.00,55.00 C665.60,55.10 674.50,55.27 680.00,55.50 C685.50,55.73 689.67,56.23 693.00,56.40 C696.33,56.57 698.83,56.48 700.00,56.50" fill="none" stroke="#000000" stroke-width="2.35" stroke-dasharray="6 2.8" stroke-dashoffset="0.00" stroke-linejoin="round"/>
<path d="M430.20,54.30 C432.67,54.32 440.03,54.40 445.00,54.40 C449.97,54.40 455.00,54.28 460.00,54.30 C465.00,54.32 470.27,54.57 475.00,54.50 C479.73,54.43 484.62,53.88 488.40,53.90 C492.18,53.92 494.73,54.60 497.70,54.60 C500.67,54.60 504.22,54.53 506.20,53.90 C508.18,53.27 508.75,50.80 509.60,50.80 C510.45,50.80 509.75,53.33 511.30,53.90 C512.85,54.47 516.22,54.08 518.90,54.20 C521.58,54.32 524.58,54.37 527.40,54.60 C530.22,54.83 533.70,55.50 535.80,55.60 C537.90,55.70 538.07,55.12 540.00,55.20 C541.93,55.28 544.77,55.72 547.40,56.10 C550.03,56.48 553.32,56.80 555.80,57.50 C558.28,58.20 560.28,59.28 562.30,60.30 C564.32,61.32 566.35,62.28 567.90,63.60 C569.45,64.92 570.45,66.50 571.60,68.20 C572.75,69.90 573.88,71.93 574.80,73.80 C575.72,75.67 576.40,77.55 577.10,79.40 C577.80,81.25 578.37,82.90 579.00,84.90 C579.63,86.90 580.28,89.07 580.90,91.40 C581.52,93.73 582.20,96.63 582.70,98.90 C583.20,101.17 583.43,102.50 583.90,105.00 C584.37,107.50 585.07,111.18 585.50,113.90 C585.93,116.62 586.18,118.52 586.50,121.30 C586.82,124.08 587.17,127.60 587.40,130.60 C587.63,133.60 587.60,136.32 587.90,139.30 C588.20,142.28 588.70,145.57 589.20,148.50 C589.70,151.43 590.42,154.10 590.90,156.90 C591.38,159.70 591.68,162.37 592.10,165.30 C592.52,168.23 593.05,171.58 593.40,174.50 C593.75,177.42 593.88,180.22 594.20,182.80 C594.52,185.38 594.77,187.00 595.30,190.00 C595.83,193.00 596.78,197.60 597.40,200.80 C598.02,204.00 598.42,206.78 599.00,209.20 C599.58,211.62 600.30,213.40 600.90,215.30 C601.50,217.20 602.17,220.82 602.60,220.60 C603.03,220.38 603.32,215.90 603.50,214.00 C603.68,212.10 603.62,211.40 603.70,209.20 C603.78,207.00 603.92,203.68 604.00,200.80 C604.08,197.92 604.12,194.82 604.20,191.90 C604.28,188.98 604.37,187.63 604.50,183.30 C604.63,178.97 604.78,173.12 605.00,165.90 C605.22,158.68 605.47,147.27 605.80,140.00 C606.13,132.73 606.72,126.92 607.00,122.30 C607.28,117.68 607.23,115.70 607.50,112.30 C607.77,108.90 608.30,104.77 608.60,101.90 C608.90,99.03 608.95,97.77 609.30,95.10 C609.65,92.43 610.23,88.98 610.70,85.90 C611.17,82.82 611.57,79.70 612.10,76.60 C612.63,73.50 613.22,69.93 613.90,67.30 C614.58,64.67 615.12,62.50 616.20,60.80 C617.28,59.10 619.08,57.95 620.40,57.10 C621.72,56.25 622.85,56.02 624.10,55.70 C625.35,55.38 626.73,55.72 627.90,55.20 C629.07,54.68 630.18,52.55 631.10,52.60 C632.02,52.65 632.08,55.15 633.40,55.50 C634.72,55.85 636.83,54.60 639.00,54.70 C641.17,54.80 644.57,56.23 646.40,56.10 C648.23,55.97 648.57,54.08 650.00,53.90 C651.43,53.72 653.33,55.10 655.00,55.00 C656.67,54.90 658.17,53.47 660.00,53.30 C661.83,53.13 663.50,53.72 666.00,54.00 C668.50,54.28 672.83,54.58 675.00,55.00 C677.17,55.42 677.50,56.67 679.00,56.50 C680.50,56.33 682.17,54.25 684.00,54.00 C685.83,53.75 688.50,55.17 690.00,55.00 C691.50,54.83 692.50,53.33 693.00,53.00" fill="none" stroke="#ff0000" stroke-width="2.35" stroke-dasharray="6 2.8" stroke-dashoffset="4.40" stroke-linejoin="round"/>
<path d="M430.50,54.80 C431.50,54.98 434.08,55.65 436.50,55.90 C438.92,56.15 442.18,56.05 445.00,56.30 C447.82,56.55 450.58,57.12 453.40,57.40 C456.22,57.68 459.22,57.72 461.90,58.00 C464.58,58.28 467.23,58.97 469.50,59.10 C471.77,59.23 473.23,58.63 475.50,58.80 C477.77,58.97 481.18,60.07 483.10,60.10 C485.02,60.13 485.83,59.35 487.00,59.00 C488.17,58.65 488.32,58.38 490.10,58.00 C491.88,57.62 495.02,57.05 497.70,56.70 C500.38,56.35 503.37,56.12 506.20,55.90 C509.03,55.68 511.88,55.55 514.70,55.40 C517.52,55.25 520.28,55.00 523.10,55.00 C525.92,55.00 528.78,55.28 531.60,55.40 C534.42,55.52 537.83,55.50 540.00,55.70 C542.17,55.90 543.05,55.98 544.60,56.60 C546.15,57.22 547.75,58.40 549.30,59.40 C550.85,60.40 552.05,61.60 553.90,62.60 C555.75,63.60 559.00,64.47 560.40,65.40 C561.80,66.33 561.05,67.27 562.30,68.20 C563.55,69.13 566.35,70.00 567.90,71.00 C569.45,72.00 570.37,73.35 571.60,74.20 C572.83,75.05 574.07,75.08 575.30,76.10 C576.53,77.12 577.77,78.83 579.00,80.30 C580.23,81.77 581.62,83.35 582.70,84.90 C583.78,86.45 584.57,87.73 585.50,89.60 C586.43,91.47 587.45,93.78 588.30,96.10 C589.15,98.42 589.88,100.85 590.60,103.50 C591.32,106.15 591.93,109.03 592.60,112.00 C593.27,114.97 594.05,118.27 594.60,121.30 C595.15,124.33 595.55,127.20 595.90,130.20 C596.25,133.20 596.22,136.25 596.70,139.30 C597.18,142.35 598.17,145.57 598.80,148.50 C599.43,151.43 599.93,154.10 600.50,156.90 C601.07,159.70 601.72,162.70 602.20,165.30 C602.68,167.90 602.98,170.67 603.40,172.50 C603.82,174.33 604.13,176.55 604.70,176.30 C605.27,176.05 606.17,172.72 606.80,171.00 C607.43,169.28 608.17,167.45 608.50,166.00 C608.83,164.55 608.65,164.28 608.80,162.30 C608.95,160.32 609.15,157.20 609.40,154.10 C609.65,151.00 609.97,147.55 610.30,143.70 C610.63,139.85 611.05,135.18 611.40,131.00 C611.75,126.82 612.08,122.03 612.40,118.60 C612.72,115.17 613.00,113.18 613.30,110.40 C613.60,107.62 613.82,104.45 614.20,101.90 C614.58,99.35 615.08,97.77 615.60,95.10 C616.12,92.43 616.68,88.98 617.30,85.90 C617.92,82.82 618.55,79.40 619.30,76.60 C620.05,73.80 620.92,71.43 621.80,69.10 C622.68,66.77 623.58,64.30 624.60,62.60 C625.62,60.90 626.73,59.90 627.90,58.90 C629.07,57.90 630.07,57.17 631.60,56.60 C633.13,56.03 635.37,55.83 637.10,55.50 C638.83,55.17 639.77,54.82 642.00,54.60 C644.23,54.38 647.67,54.52 650.50,54.20 C653.33,53.88 656.18,52.63 659.00,52.70 C661.82,52.77 665.15,54.67 667.40,54.60 C669.65,54.53 670.52,52.02 672.50,52.30 C674.48,52.58 677.88,55.60 679.30,56.30 C680.72,57.00 680.72,56.47 681.00,56.50" fill="none" stroke="#0070c0" stroke-width="2.35" stroke-dasharray="6 2.8" stroke-dashoffset="2.20" stroke-linejoin="round"/>
<path d="M432.80,388.40 C439.00,388.43 458.80,388.63 470.00,388.60 C481.20,388.57 490.00,388.32 500.00,388.20 C510.00,388.08 520.83,387.95 530.00,387.90 C539.17,387.85 548.20,387.75 555.00,387.90 C561.80,388.05 567.23,388.42 570.80,388.80 C574.37,389.18 574.70,389.50 576.40,390.20 C578.10,390.90 579.62,391.77 581.00,393.00 C582.38,394.23 583.70,396.20 584.70,397.60 C585.70,399.00 586.23,399.68 587.00,401.40 C587.77,403.12 588.62,405.65 589.30,407.90 C589.98,410.15 590.57,412.65 591.10,414.90 C591.63,417.15 592.03,419.17 592.50,421.40 C592.97,423.63 593.50,425.88 593.90,428.30 C594.30,430.72 594.55,433.38 594.90,435.90 C595.25,438.42 595.63,440.92 596.00,443.40 C596.37,445.88 596.72,448.45 597.10,450.80 C597.48,453.15 597.98,455.27 598.30,457.50 C598.62,459.73 598.70,461.97 599.00,464.20 C599.30,466.43 599.85,468.80 600.10,470.90 C600.35,473.00 600.25,474.12 600.50,476.80 C600.75,479.48 601.27,483.63 601.60,487.00 C601.93,490.37 602.20,493.63 602.50,497.00 C602.80,500.37 603.12,504.25 603.40,507.20 C603.68,510.15 603.88,512.22 604.20,514.70 C604.52,517.18 605.00,519.75 605.30,522.10 C605.60,524.45 605.70,526.70 606.00,528.80 C606.30,530.90 606.72,532.72 607.10,534.70 C607.48,536.68 607.92,539.22 608.30,540.70 C608.68,542.18 609.03,542.95 609.40,543.60 C609.77,544.25 610.13,544.85 610.50,544.60 C610.87,544.35 611.23,543.50 611.60,542.10 C611.97,540.70 612.38,538.42 612.70,536.20 C613.02,533.98 613.25,531.28 613.50,528.80 C613.75,526.32 613.97,523.78 614.20,521.30 C614.43,518.82 614.65,516.37 614.90,513.90 C615.15,511.43 615.43,509.48 615.70,506.50 C615.97,503.52 616.27,499.42 616.50,496.00 C616.73,492.58 616.93,489.17 617.10,486.00 C617.27,482.83 617.37,479.52 617.50,477.00 C617.63,474.48 617.77,473.17 617.90,470.90 C618.03,468.63 618.18,465.77 618.30,463.40 C618.42,461.03 618.42,459.05 618.60,456.70 C618.78,454.35 619.15,451.77 619.40,449.30 C619.65,446.83 619.85,444.37 620.10,441.90 C620.35,439.43 620.67,436.52 620.90,434.50 C621.13,432.48 621.12,432.50 621.50,429.80 C621.88,427.10 622.58,421.65 623.20,418.30 C623.82,414.95 624.40,412.58 625.20,409.70 C626.00,406.82 626.97,403.40 628.00,401.00 C629.03,398.60 630.27,396.90 631.40,395.30 C632.53,393.70 633.60,392.28 634.80,391.40 C636.00,390.52 635.23,390.32 638.60,390.00 C641.97,389.68 649.77,389.50 655.00,389.50 C660.23,389.50 664.17,389.78 670.00,390.00 C675.83,390.22 685.00,390.77 690.00,390.80 C695.00,390.83 697.33,390.53 700.00,390.20 C702.67,389.87 705.00,389.03 706.00,388.80" fill="none" stroke="#000000" stroke-width="1.75" stroke-dasharray="4.8 2.3" stroke-dashoffset="1.70" stroke-linejoin="round"/>
<path d="M432.80,389.50 C435.67,389.57 443.80,389.85 450.00,389.90 C456.20,389.95 461.67,390.02 470.00,389.80 C478.33,389.58 490.00,388.92 500.00,388.60 C510.00,388.28 520.83,388.02 530.00,387.90 C539.17,387.78 549.28,387.85 555.00,387.90 C560.72,387.95 561.82,387.97 564.30,388.20 C566.78,388.43 568.05,388.73 569.90,389.30 C571.75,389.87 573.85,390.67 575.40,391.60 C576.95,392.53 578.08,393.42 579.20,394.90 C580.32,396.38 581.23,398.57 582.10,400.50 C582.97,402.43 583.75,404.42 584.40,406.50 C585.05,408.58 585.45,410.75 586.00,413.00 C586.55,415.25 587.18,417.68 587.70,420.00 C588.22,422.32 588.70,424.62 589.10,426.90 C589.50,429.18 589.75,431.33 590.10,433.70 C590.45,436.07 590.90,438.62 591.20,441.10 C591.50,443.58 591.65,446.12 591.90,448.60 C592.15,451.08 592.38,453.65 592.70,456.00 C593.02,458.35 593.50,460.47 593.80,462.70 C594.10,464.93 594.25,467.17 594.50,469.40 C594.75,471.63 594.97,473.33 595.30,476.10 C595.63,478.87 596.12,482.68 596.50,486.00 C596.88,489.32 597.25,492.58 597.60,496.00 C597.95,499.42 598.32,503.52 598.60,506.50 C598.88,509.48 599.05,511.67 599.30,513.90 C599.55,516.13 599.85,517.67 600.10,519.90 C600.35,522.13 600.50,524.83 600.80,527.30 C601.10,529.77 601.52,532.10 601.90,534.70 C602.28,537.30 602.60,541.32 603.10,542.90 C603.60,544.48 604.28,544.57 604.90,544.20 C605.52,543.83 606.23,542.15 606.80,540.70 C607.37,539.25 607.87,537.62 608.30,535.50 C608.73,533.38 609.10,530.37 609.40,528.00 C609.70,525.63 609.85,523.65 610.10,521.30 C610.35,518.95 610.65,516.37 610.90,513.90 C611.15,511.43 611.32,509.48 611.60,506.50 C611.88,503.52 612.32,499.42 612.60,496.00 C612.88,492.58 613.10,489.32 613.30,486.00 C613.50,482.68 613.65,478.75 613.80,476.10 C613.95,473.45 614.03,472.33 614.20,470.10 C614.37,467.87 614.62,465.05 614.80,462.70 C614.98,460.35 615.15,458.23 615.30,456.00 C615.45,453.77 615.52,451.65 615.70,449.30 C615.88,446.95 616.17,444.37 616.40,441.90 C616.63,439.43 616.92,436.52 617.10,434.50 C617.28,432.48 617.20,432.50 617.50,429.80 C617.80,427.10 618.35,421.97 618.90,418.30 C619.45,414.63 620.08,411.00 620.80,407.80 C621.52,404.60 622.23,401.58 623.20,399.10 C624.17,396.62 625.32,394.42 626.60,392.90 C627.88,391.38 629.62,390.97 630.90,390.00 C632.18,389.03 633.50,387.33 634.30,387.10 C635.10,386.87 634.50,388.28 635.70,388.60 C636.90,388.92 638.28,388.97 641.50,389.00 C644.72,389.03 650.25,388.70 655.00,388.80 C659.75,388.90 664.17,389.30 670.00,389.60 C675.83,389.90 685.00,390.50 690.00,390.60 C695.00,390.70 697.33,390.55 700.00,390.20 C702.67,389.85 705.00,388.78 706.00,388.50" fill="none" stroke="#ff0000" stroke-width="1.75" stroke-dasharray="4.8 2.3" stroke-dashoffset="3.50" stroke-linejoin="round"/>
<path d="M432.80,388.90 C439.00,388.83 458.80,388.70 470.00,388.50 C481.20,388.30 490.00,387.82 500.00,387.70 C510.00,387.58 520.83,387.77 530.00,387.80 C539.17,387.83 549.28,387.83 555.00,387.90 C560.72,387.97 561.72,387.97 564.30,388.20 C566.88,388.43 568.55,388.73 570.50,389.30 C572.45,389.87 574.42,390.67 576.00,391.60 C577.58,392.53 578.87,393.58 580.00,394.90 C581.13,396.22 582.03,398.18 582.80,399.50 C583.57,400.82 583.90,401.17 584.60,402.80 C585.30,404.43 586.33,407.05 587.00,409.30 C587.67,411.55 588.07,413.98 588.60,416.30 C589.13,418.62 589.78,421.12 590.20,423.20 C590.62,425.28 590.75,426.55 591.10,428.80 C591.45,431.05 591.92,434.15 592.30,436.70 C592.68,439.25 593.03,441.63 593.40,444.10 C593.77,446.57 594.12,449.15 594.50,451.50 C594.88,453.85 595.32,455.97 595.70,458.20 C596.08,460.43 596.50,462.55 596.80,464.90 C597.10,467.25 597.20,469.45 597.50,472.30 C597.80,475.15 598.20,478.22 598.60,482.00 C599.00,485.78 599.47,490.55 599.90,495.00 C600.33,499.45 600.80,505.18 601.20,508.70 C601.60,512.22 601.98,513.62 602.30,516.10 C602.62,518.58 602.85,521.37 603.10,523.60 C603.35,525.83 603.50,527.40 603.80,529.50 C604.10,531.60 604.47,533.85 604.90,536.20 C605.33,538.55 605.78,541.50 606.40,543.60 C607.02,545.70 608.10,548.18 608.60,548.80 C609.10,549.42 609.08,548.42 609.40,547.30 C609.72,546.18 610.13,544.20 610.50,542.10 C610.87,540.00 611.30,537.17 611.60,534.70 C611.90,532.23 612.05,529.77 612.30,527.30 C612.55,524.83 612.85,522.38 613.10,519.90 C613.35,517.42 613.62,514.63 613.80,512.40 C613.98,510.17 614.00,509.40 614.20,506.50 C614.40,503.60 614.73,498.75 615.00,495.00 C615.27,491.25 615.57,487.15 615.80,484.00 C616.03,480.85 616.23,478.53 616.40,476.10 C616.57,473.67 616.68,471.77 616.80,469.40 C616.92,467.03 616.98,464.25 617.10,461.90 C617.22,459.55 617.30,457.52 617.50,455.30 C617.70,453.08 618.05,450.97 618.30,448.60 C618.55,446.23 618.82,443.70 619.00,441.10 C619.18,438.50 619.25,434.88 619.40,433.00 C619.55,431.12 619.58,432.25 619.90,429.80 C620.22,427.35 620.75,421.82 621.30,418.30 C621.85,414.78 622.48,411.73 623.20,408.70 C623.92,405.67 624.63,402.58 625.60,400.10 C626.57,397.62 627.80,395.32 629.00,393.80 C630.20,392.28 631.37,391.63 632.80,391.00 C634.23,390.37 635.52,390.25 637.60,390.00 C639.68,389.75 642.40,389.62 645.30,389.50 C648.20,389.38 650.88,389.22 655.00,389.30 C659.12,389.38 664.17,389.72 670.00,390.00 C675.83,390.28 685.00,390.92 690.00,391.00 C695.00,391.08 697.33,390.83 700.00,390.50 C702.67,390.17 705.00,389.25 706.00,389.00" fill="none" stroke="#0070c0" stroke-width="1.75" stroke-dasharray="4.8 2.3" stroke-dashoffset="0.00" stroke-linejoin="round"/>
<line x1="216.10" y1="47.00" x2="216.10" y2="105.00" stroke="#000" stroke-width="1.9" stroke-dasharray="4.3 1.5"/>
<line x1="261.60" y1="216.40" x2="261.60" y2="247.60" stroke="#000" stroke-width="1.9" stroke-dasharray="4.3 1.5"/>
<line x1="213.20" y1="381.20" x2="213.20" y2="422.60" stroke="#000" stroke-width="1.9" stroke-dasharray="4.3 1.5"/>
<line x1="261.80" y1="547.40" x2="261.80" y2="581.00" stroke="#000" stroke-width="1.9" stroke-dasharray="4.3 1.5"/>
<text x="229.10" y="65.30" font-size="14.00" text-anchor="start" >350 (C<tspan font-size="9.80" font-weight="normal" dx="0.70" dy="-2.74">°</tspan><tspan dx="0.42" dy="2.74">)</tspan></text>
<text x="268.50" y="207.60" font-size="14.00" text-anchor="start" >450 (C<tspan font-size="9.80" font-weight="normal" dx="0.70" dy="-2.74">°</tspan><tspan dx="0.42" dy="2.74">)</tspan></text>
<text x="220.00" y="385.80" font-size="14.00" text-anchor="start" >350 (C<tspan font-size="9.80" font-weight="normal" dx="0.70" dy="-2.74">°</tspan><tspan dx="0.42" dy="2.74">)</tspan></text>
<text x="269.90" y="544.00" font-size="14.00" text-anchor="start" >450 (C<tspan font-size="9.80" font-weight="normal" dx="0.70" dy="-2.74">°</tspan><tspan dx="0.42" dy="2.74">)</tspan></text>
<rect x="83.50" y="181.70" width="132.00" height="63.50" fill="#fff" stroke="#000" stroke-width="1.3"/>
<line x1="92.15" y1="191.90" x2="125.75" y2="191.90" stroke="#000000" stroke-width="2.70" stroke-linecap="round"/>
<text x="130.50" y="195.80" font-size="12.6">PET</text>
<line x1="92.15" y1="213.40" x2="125.75" y2="213.40" stroke="#ff0000" stroke-width="2.70" stroke-linecap="round"/>
<text x="130.50" y="217.30" font-size="12.6">PET-GAP90</text>
<line x1="92.15" y1="234.50" x2="125.75" y2="234.50" stroke="#0070c0" stroke-width="2.70" stroke-linecap="round"/>
<text x="130.50" y="238.40" font-size="12.6">PET-GAP90-S</text>
<rect x="437.90" y="184.50" width="148.40" height="59.50" fill="#fff" stroke="#000" stroke-width="1.3"/>
<line x1="447.30" y1="194.80" x2="495.00" y2="194.80" stroke="#000000" stroke-width="2.40" stroke-dasharray="6.4 2.6"/>
<text x="499.40" y="198.70" font-size="12.6">PET</text>
<line x1="447.30" y1="214.80" x2="495.00" y2="214.80" stroke="#ff0000" stroke-width="2.40" stroke-dasharray="6.4 2.6"/>
<text x="499.40" y="218.70" font-size="12.6">PET-GAP90</text>
<line x1="447.30" y1="234.70" x2="495.00" y2="234.70" stroke="#0070c0" stroke-width="2.40" stroke-dasharray="6.4 2.6"/>
<text x="499.40" y="238.60" font-size="12.6">PET-GAP90-S</text>
<rect x="84.50" y="501.50" width="137.10" height="59.50" fill="#fff" stroke="#000" stroke-width="1.3"/>
<line x1="91.75" y1="511.50" x2="124.85" y2="511.50" stroke="#000000" stroke-width="2.70" stroke-linecap="round"/>
<text x="129.90" y="515.40" font-size="12.6">PET</text>
<line x1="91.75" y1="531.40" x2="124.85" y2="531.40" stroke="#ff0000" stroke-width="2.70" stroke-linecap="round"/>
<text x="129.90" y="535.30" font-size="12.6">PET-NaOH60</text>
<line x1="91.75" y1="551.00" x2="124.85" y2="551.00" stroke="#0070c0" stroke-width="2.70" stroke-linecap="round"/>
<text x="129.90" y="554.90" font-size="12.6">PET-NaOH60-S</text>
<rect x="440.40" y="508.40" width="151.70" height="64.90" fill="#fff" stroke="#000" stroke-width="1.3"/>
<line x1="447.90" y1="519.10" x2="494.90" y2="519.10" stroke="#000000" stroke-width="1.60" stroke-dasharray="5.1 2.0"/>
<text x="499.60" y="523.00" font-size="12.6">PET</text>
<line x1="447.90" y1="540.90" x2="494.90" y2="540.90" stroke="#ff0000" stroke-width="1.60" stroke-dasharray="5.1 2.0"/>
<text x="499.60" y="544.80" font-size="12.6">PET-NaOH60</text>
<line x1="447.90" y1="562.80" x2="494.90" y2="562.80" stroke="#0070c0" stroke-width="1.60" stroke-dasharray="5.1 2.0"/>
<text x="499.60" y="566.70" font-size="12.6">PET-NaOH60-S</text>
<text x="137.60" y="306.60" font-size="16.70" text-anchor="start" >Tempertature (C<tspan font-size="9.35" font-weight="normal" dx="1.25" dy="-3.89">°</tspan><tspan dx="1.00" dy="3.89">)</tspan></text>
<text x="492.90" y="305.40" font-size="16.70" text-anchor="start" >Tempertature (C<tspan font-size="9.35" font-weight="normal" dx="1.25" dy="-3.89">°</tspan><tspan dx="1.00" dy="3.89">)</tspan></text>
<text x="121.60" y="642.60" font-size="16.70" text-anchor="start" >Tempertature (C<tspan font-size="9.35" font-weight="normal" dx="1.25" dy="-3.89">°</tspan><tspan dx="1.00" dy="3.89">)</tspan></text>
<text x="506.80" y="639.60" font-size="16.70" text-anchor="start" >Tempertature (C<tspan font-size="9.35" font-weight="normal" dx="1.25" dy="-3.89">°</tspan><tspan dx="1.00" dy="3.89">)</tspan></text>
<text transform="translate(15.30,135.30) rotate(-90)" x="0" y="0" font-size="16.70" text-anchor="middle">Weight Loss (%)</text>
<text transform="translate(380.60,138.00) rotate(-90)" x="0" y="0" font-size="16.70" text-anchor="middle">Derivative weight  (1/C<tspan font-size="9.35" font-weight="normal" dx="-0.17" dy="-3.89">°</tspan><tspan dx="0.83" dy="3.89">)</tspan></text>
<text transform="translate(17.90,469.80) rotate(-90)" x="0" y="0" font-size="16.70" text-anchor="middle">Weight Loss (%)</text>
<text transform="translate(381.20,469.90) rotate(-90)" x="0" y="0" font-size="16.70" text-anchor="middle">Derivative weight  (1/C<tspan font-size="9.35" font-weight="normal" dx="-0.17" dy="-3.89">°</tspan><tspan dx="0.83" dy="3.89">)</tspan></text>
<text x="-0.3" y="13.9" font-size="19.5">(a)</text>
<text x="364.6" y="17.6" font-size="19.5">(b)</text>
<text x="3.0" y="352.0" font-size="19.5">(c)</text>
<text x="364.6" y="350.2" font-size="19.5">(d)</text>
</svg>
</body></html>
